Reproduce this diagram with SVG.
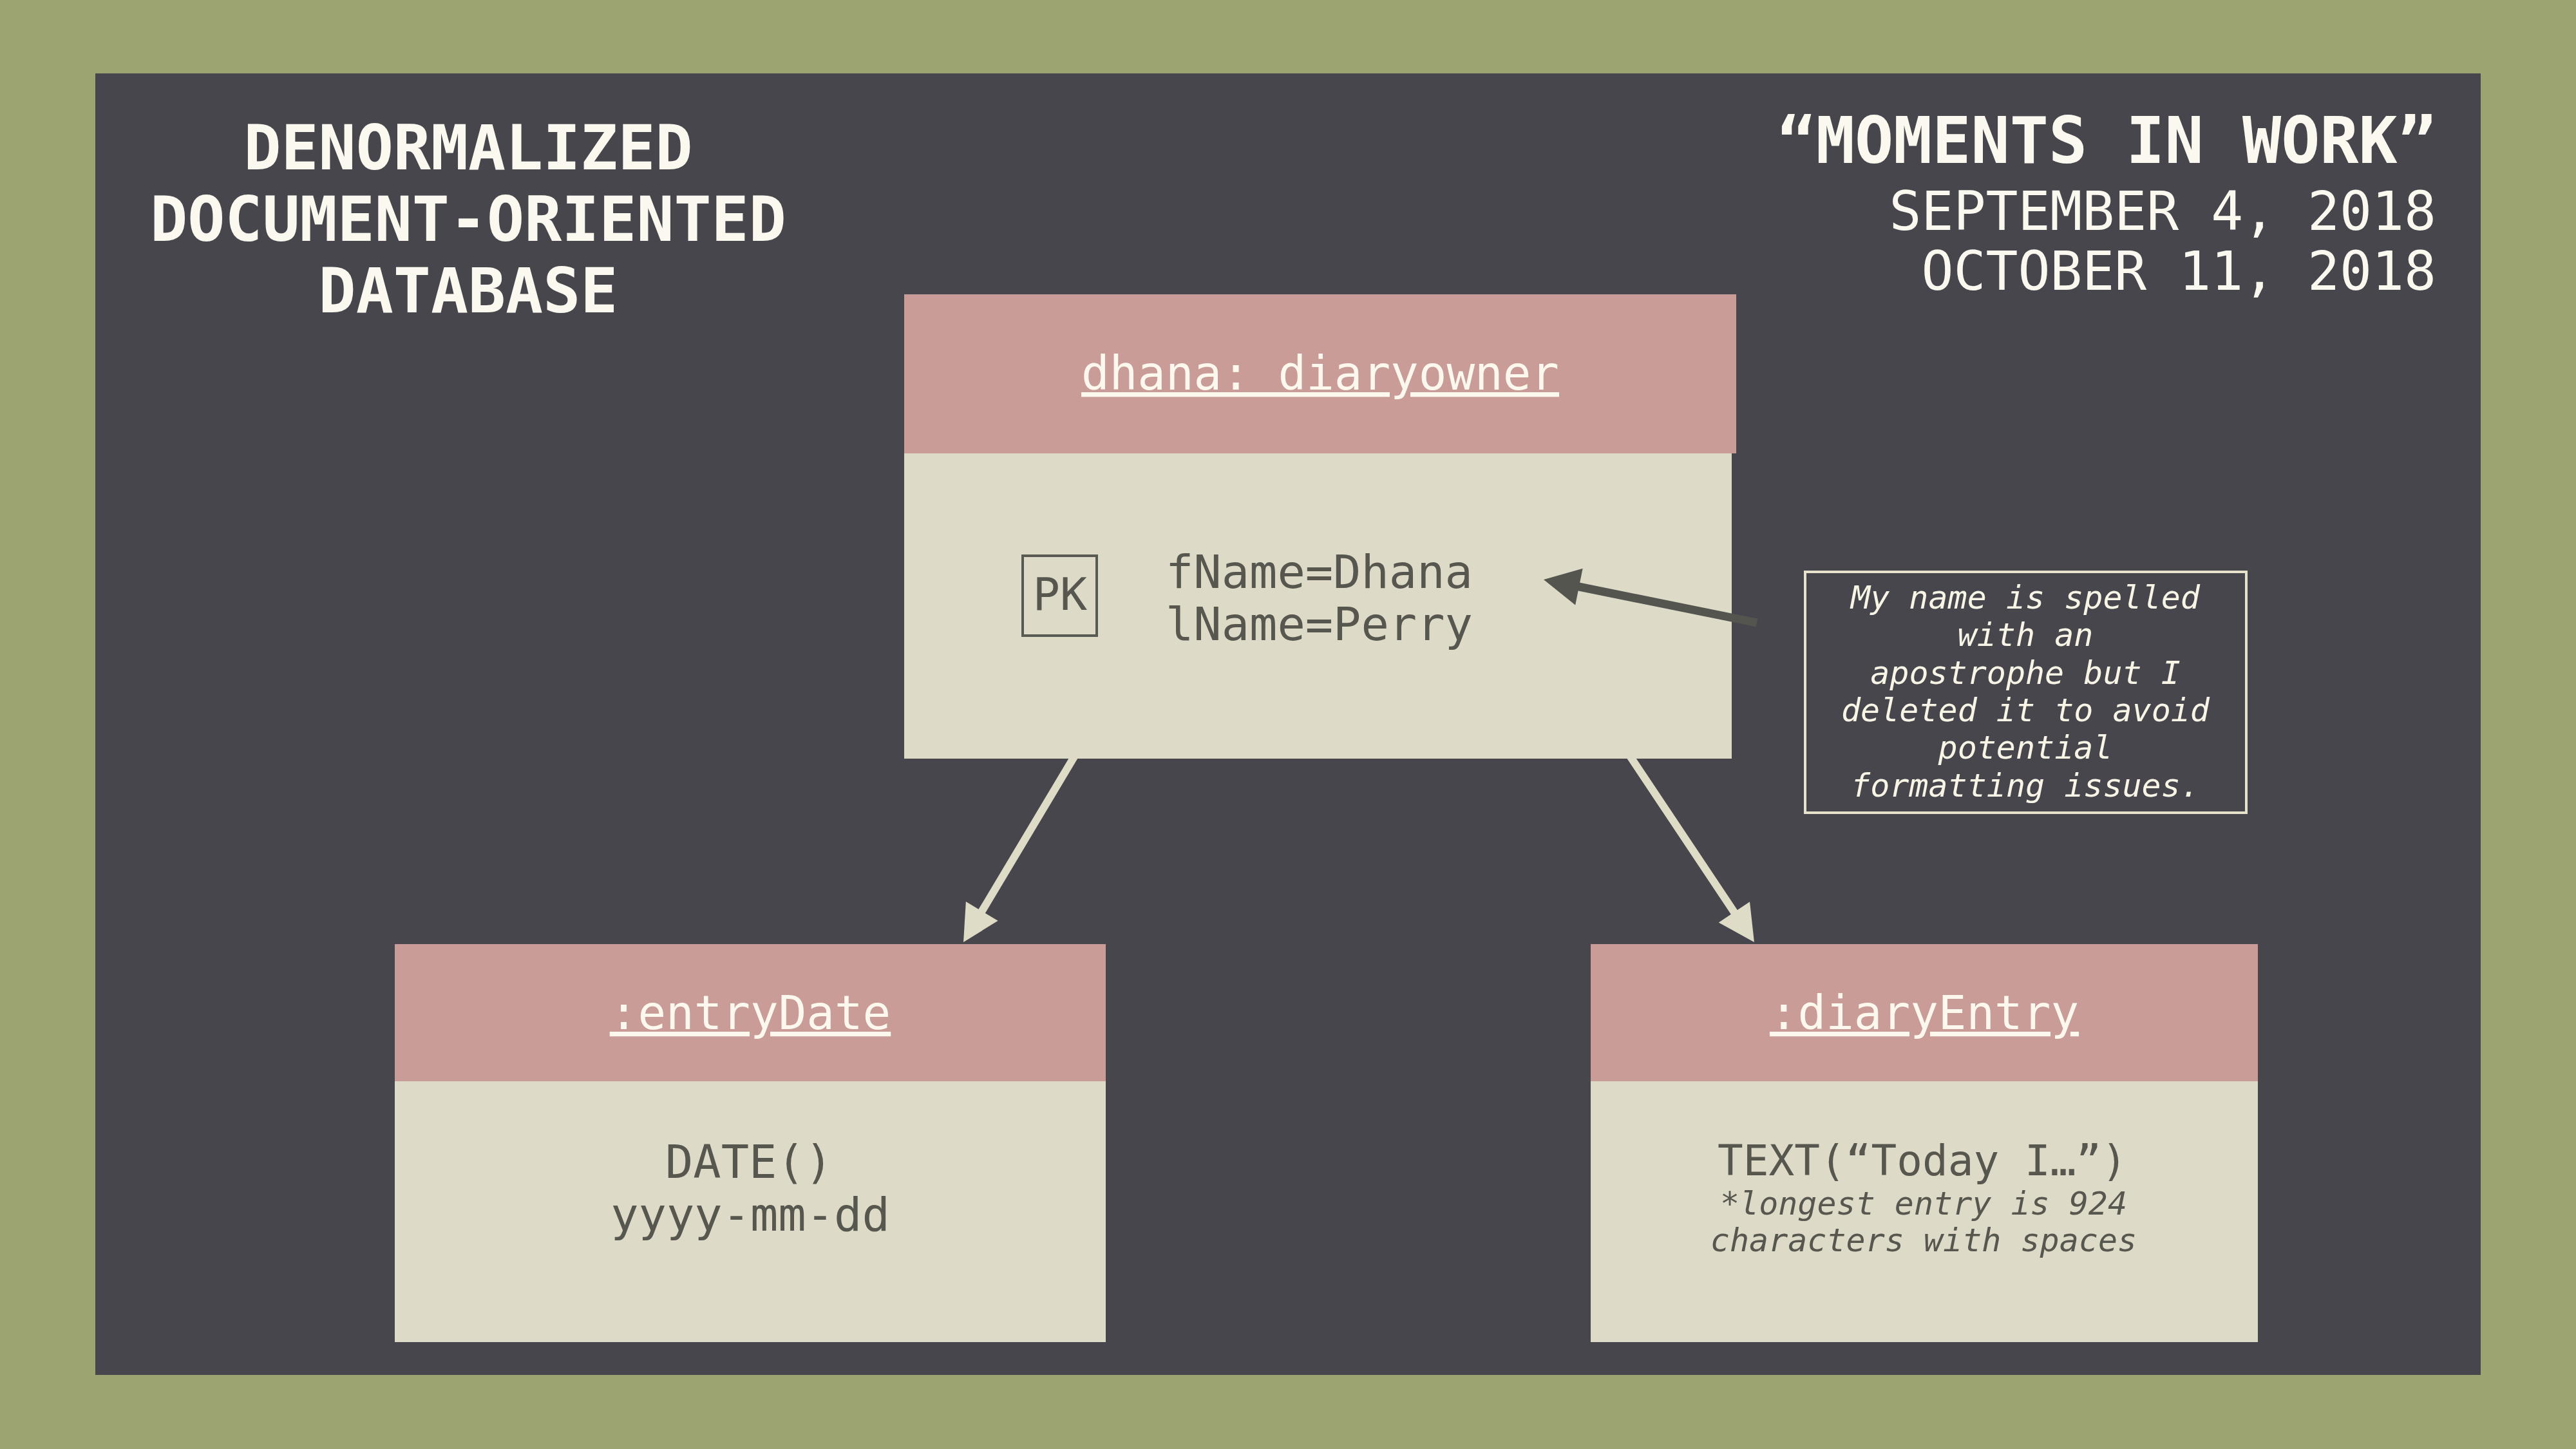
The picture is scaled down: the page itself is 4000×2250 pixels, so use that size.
<svg xmlns="http://www.w3.org/2000/svg" width="4000" height="2250" viewBox="0 0 4000 2250">
  <style>
    .mono { font-family: "DejaVu Sans Mono", "Liberation Mono", monospace; }
    .title { font-weight: bold; fill: #FBF8EF; }
    .date { fill: #FBF8EF; font-size: 83px; }
    .hdr { fill: #C99C97; }
    .body { fill: #DDDBC8; }
    .hdrtext { fill: #FDF8EE; font-size: 72.5px; text-decoration: underline; text-anchor: middle; }
    .bodytext { fill: #58574F; font-size: 72px; }
    .note { fill: #F8F4E6; font-size: 50px; font-style: italic; text-anchor: middle; }
    .small { fill: #58574F; font-size: 50px; font-style: italic; text-anchor: middle; }
  </style>
  <defs>
    <marker id="arrowCream" markerUnits="userSpaceOnUse" markerWidth="60" markerHeight="70" refX="26" refY="35" orient="auto" overflow="visible">
      <path d="M0,6 L56,35 L0,64 Z" fill="#DEDBC7"/>
    </marker>
    <marker id="arrowGray" markerUnits="userSpaceOnUse" markerWidth="60" markerHeight="70" refX="26" refY="35" orient="auto" overflow="visible">
      <path d="M0,6 L56,35 L0,64 Z" fill="#55554F"/>
    </marker>
  </defs>

  <rect x="0" y="0" width="4000" height="2250" fill="#9CA571"/>
  <rect x="148" y="114" width="3704" height="2021" fill="#46464C"/>

  <g id="title-left" class="mono title" font-size="96.5" text-anchor="middle">
    <text x="727" y="263">DENORMALIZED</text>
    <text x="727" y="374">DOCUMENT-ORIENTED</text>
    <text x="727" y="485">DATABASE</text>
  </g>

  <g id="title-right" class="mono" text-anchor="end">
    <text class="title" x="3783" y="253" font-size="100">“MOMENTS IN WORK”</text>
    <text class="date" x="3783" y="357">SEPTEMBER 4, 2018</text>
    <text class="date" x="3783" y="450">OCTOBER 11, 2018</text>
  </g>

  <g id="connectors">
    <path d="M1683,1150 L1511.4,1437.2" stroke="#DEDBC7" stroke-width="12" fill="none" marker-end="url(#arrowCream)"/>
    <path d="M2515,1150 L2707.3,1438.1" stroke="#DEDBC7" stroke-width="12" fill="none" marker-end="url(#arrowCream)"/>
  </g>

  <g id="node-diaryowner" class="mono">
    <rect class="body" x="1404" y="704" width="1285" height="474"/>
    <rect class="hdr" x="1404" y="457" width="1292" height="247"/>
    <text class="hdrtext" x="2050" y="605">dhana: diaryowner</text>
    <rect x="1588" y="863" width="115" height="124" fill="none" stroke="#5A5A55" stroke-width="4"/>
    <text class="bodytext" x="1646" y="947" text-anchor="middle" style="font-size:70px">PK</text>
    <text class="bodytext" x="1810" y="913">fName=Dhana</text>
    <text class="bodytext" x="1810" y="994">lName=Perry</text>
  </g>

  <g id="node-entryDate" class="mono">
    <rect class="hdr" x="613" y="1466" width="1104" height="213"/>
    <rect class="body" x="613" y="1679" width="1104" height="405"/>
    <text class="hdrtext" x="1165" y="1598">:entryDate</text>
    <text class="bodytext" x="1163" y="1829" text-anchor="middle">DATE()</text>
    <text class="bodytext" x="1165" y="1911" text-anchor="middle">yyyy-mm-dd</text>
  </g>

  <g id="node-diaryEntry" class="mono">
    <rect class="hdr" x="2470" y="1466" width="1036" height="213"/>
    <rect class="body" x="2470" y="1679" width="1036" height="405"/>
    <text class="hdrtext" x="2988" y="1598">:diaryEntry</text>
    <text class="bodytext" x="2985" y="1825" text-anchor="middle" style="font-size:66px">TEXT(“Today I…”)</text>
    <text class="small" x="2987" y="1886">*longest entry is 924</text>
    <text class="small" x="2987" y="1943">characters with spaces</text>
  </g>

  <g id="note" class="mono">
    <rect x="2803" y="888" width="685" height="374" fill="none" stroke="#E6E2CC" stroke-width="4"/>
    <text class="note" x="3145" y="945">My name is spelled</text>
    <text class="note" x="3145" y="1003">with an</text>
    <text class="note" x="3145" y="1062">apostrophe but I</text>
    <text class="note" x="3145" y="1120">deleted it to avoid</text>
    <text class="note" x="3145" y="1178">potential</text>
    <text class="note" x="3145" y="1237">formatting issues.</text>
  </g>

  <g id="note-connector">
    <path d="M2728,967 L2426.4,905.9" stroke="#55554F" stroke-width="13" fill="none" marker-end="url(#arrowGray)"/>
  </g>
</svg>
